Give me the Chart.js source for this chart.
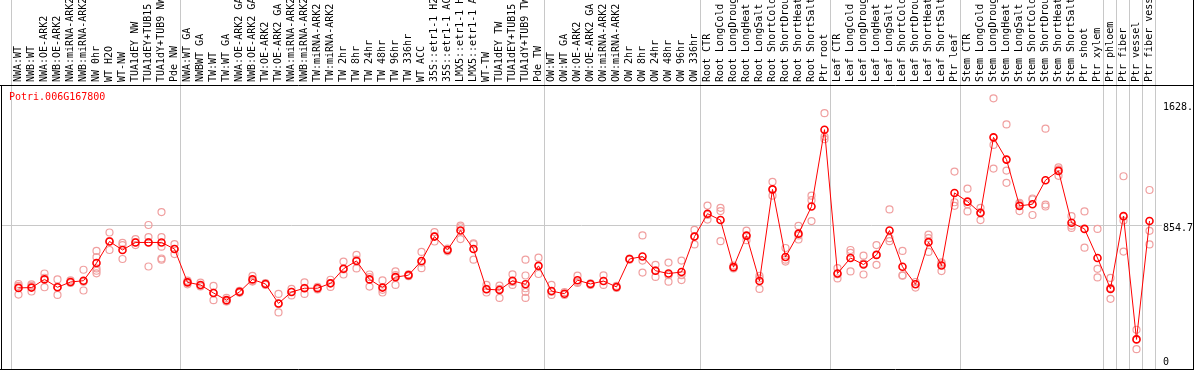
<!DOCTYPE html>
<html>
<head>
<meta charset="utf-8">
<script src="https://cdn.jsdelivr.net/npm/chart.js@4.4.0/dist/chart.umd.min.js"></script>
<style>
html,body{margin:0;padding:0;background:#ffffff;}
canvas{display:block;}
</style>
</head>
<body>
<canvas id="c" width="1194" height="370"></canvas>
<script>
const geneName = "Potri.006G167800";

const categories = [
  "NWA:WT","NWB:WT","NWA:OE-ARK2","NWB:OE-ARK2","NWA:miRNA-ARK2","NWB:miRNA-ARK2","NW 0hr","WT H2O","WT-NW","TUA1dEY NW","TUA1dEY+TUB15","TUA1dY+TUB9 NW","Pde NW",
  "NWA:WT GA","NWBWT GA","TW:WT","TW:WT GA","NWA:OE-ARK2 GA","NWB:OE-ARK2 GA","TW:OE-ARK2","TW:OE-ARK2 GA","NWA:miRNA-ARK2","NWB:miRNA-ARK2","TW:miRNA-ARK2","TW:miRNA-ARK2","TW 2hr","TW 8hr","TW 24hr","TW 48hr","TW 96hr","TW 336hr","WT ACC","35S::etr1-1 H2","35S::etr1-1 AC","LMX5::etr1-1 H","LMX5::etr1-1 A","WT-TW","TUA1dEY TW","TUA1dEY+TUB15","TUA1dY+TUB9 TW","Pde TW",
  "OW:WT","OW:WT GA","OW:OE-ARK2","OW:OE-ARK2 GA","OW:miRNA-ARK2","OW:miRNA-ARK2","OW 2hr","OW 8hr","OW 24hr","OW 48hr","OW 96hr","OW 336hr",
  "Root CTR","Root LongCold","Root LongDroug","Root LongHeat","Root LongSalt","Root ShortCold","Root ShortDrou","Root ShortHeat","Root ShortSalt","Ptr root",
  "Leaf CTR","Leaf LongCold","Leaf LongDroug","Leaf LongHeat","Leaf LongSalt","Leaf ShortCold","Leaf ShortDrou","Leaf ShortHeat","Leaf ShortSalt","Ptr leaf",
  "Stem CTR","Stem LongCold","Stem LongDroug","Stem LongHeat","Stem LongSalt","Stem ShortCold","Stem ShortDrou","Stem ShortHeat","Stem ShortSalt","Ptr shoot","Ptr xylem",
  "Ptr phloem","Ptr fiber","Ptr vessel","Ptr fiber vess"
];

const meanValues = [
  468,470,520,472,504,512,620,752,700,746,746,746,706,
  502,486,437,393,444,520,492,373,443,466,466,496,585,633,520,470,534,546,633,782,700,819,706,460,455,512,490,603,
  449,432,515,492,510,474,645,660,573,556,565,782,
  922,883,595,788,510,1071,657,800,966,1436,
  556,651,611,670,819,597,490,748,605,1049,
  996,926,1389,1253,970,980,1127,1184,867,829,651,
  462,907,153,877
];

const replicateValues = [
  [492,480,427],[490,480,446],[556,472,530],[520,425,474],[514,502,498],[579,452,505],
  [694,656,587,573,557],[807,700,754],[744,730,645],[767,730,748],[853,779,599,748],
  [932,779,720,648,641],[736,675,706],
  [512,490,505],[500,480,477],[480,393,438],[407,387,385],[444,450,438],[541,510,507],
  [492,498,486],[431,318,370],[462,422,444],[502,431,468],[468,474,459],[518,474,498],
  [629,550,581],[670,587,641],[550,476,534],[514,440,456],[569,486,546],[551,543,540],
  [688,589,623],[809,752,784],[708,692,700],[849,767,839],[740,641,735],[486,440,462],
  [482,407,462],[551,486,504],[641,544,466,443,407],[653,553],
  [486,425,444],[442,425],[543,504,498],[496,486],[545,486],[480,468],[647,641],
  [789,562,635],[609,535,575],[623,506,546],[635,516,546],[823,734,784],
  [972,886,914],[958,938,754],[605,587,593],[819,760,784],[541,526,462],[1117,1032,1069],
  [712,629,641],[847,764,789],[1032,1005,877],[1537,1394,1378],
  [589,526,551],[700,569,682],[665,550,618],[730,609,670],[948,754,772],[694,545,543],
  [504,470,492],[794,773,688],[625,571,618],[1180,992,970],
  [1075,936,980],[958,883,932],[1628,1343,1198],[1468,1186,1111],[982,938,989],
  [1015,914,1009],[1442,978,966],[1206,1154,1194],[907,835,849],[936,714],[829,585,532],
  [529,401,468],[1151,690,880],[212,93,155],[1067,817,734]
];

const groupStarts = [0, 13, 41, 53, 63, 73, 84, 85, 86, 87, 88];
const yTickValues = [0, 854.7, 1628];
const yTickLabels = ["0", "854.7", "1628."];
const gridValues = [854.7];
const yAxisMax = 1709.4;

const MONO = '"DejaVu Sans Mono", "Liberation Mono", monospace';

const meanPoints = meanValues.map((v, i) => ({ x: i, y: v }));
const replicatePoints = [];
replicateValues.forEach((reps, i) => reps.forEach(v => replicatePoints.push({ x: i, y: v })));

const framePlugin = {
  id: 'frame',
  beforeDatasetsDraw(chart) {
    const { ctx, chartArea: a, scales } = chart;
    const xs = scales.x, ys = scales.y;
    ctx.save();
    ctx.strokeStyle = '#c8c8c8';
    ctx.lineWidth = 1;
    groupStarts.forEach(g => {
      const px = Math.floor(xs.getPixelForValue(g - 0.5)) - 0.5;
      ctx.beginPath();
      ctx.moveTo(px, 0);
      ctx.lineTo(px, chart.height);
      ctx.stroke();
    });
    gridValues.forEach(v => {
      const py = Math.round(ys.getPixelForValue(v)) + 0.5;
      ctx.beginPath();
      ctx.moveTo(1, py);
      ctx.lineTo(a.right + 6, py);
      ctx.stroke();
    });

    // category labels, rotated, read bottom to top, starting just above the plot
    ctx.font = '10px ' + MONO;
    ctx.fillStyle = '#000000';
    ctx.textAlign = 'left';
    ctx.textBaseline = 'middle';
    categories.forEach((label, i) => {
      const px = xs.getPixelForValue(i);
      ctx.save();
      ctx.translate(px, a.top - 3);
      ctx.rotate(-Math.PI / 2);
      ctx.fillText(label, 0, 0);
      ctx.restore();
    });
    ctx.restore();
  },
  afterDraw(chart) {
    const { ctx, chartArea: a, scales } = chart;
    const ys = scales.y;
    const W = chart.width, H = chart.height;
    ctx.save();
    ctx.strokeStyle = '#000000';
    ctx.lineWidth = 1;
    ctx.beginPath();
    ctx.moveTo(0, a.top + 0.5); ctx.lineTo(W, a.top + 0.5);
    ctx.moveTo(1.5, a.top); ctx.lineTo(1.5, H);
    ctx.moveTo(0, H - 0.5); ctx.lineTo(W, H - 0.5);
    ctx.moveTo(W - 0.5, 0); ctx.lineTo(W - 0.5, H);
    ctx.stroke();

    ctx.font = '10px ' + MONO;
    ctx.fillStyle = '#ff0000';
    ctx.textAlign = 'left';
    ctx.textBaseline = 'middle';
    ctx.fillText(geneName, a.left - 3, a.top + 12);

    ctx.fillStyle = '#000000';
    yTickValues.forEach((v, i) => {
      let py = ys.getPixelForValue(v) + 4;
      py = Math.max(py, a.top + 22);
      py = Math.min(py, H - 8);
      ctx.fillText(yTickLabels[i], a.right + 7, py);
    });
    ctx.restore();
  }
};

new Chart(document.getElementById('c'), {
  type: 'line',
  data: {
    datasets: [
      {
        label: 'mean',
        data: meanPoints,
        borderColor: '#ff0000',
        borderWidth: 1,
        pointRadius: 3.5,
        pointBorderWidth: 1.6,
        pointBorderColor: '#ff0000',
        pointBackgroundColor: 'rgba(255,255,255,0)',
        tension: 0,
        order: 0
      },
      {
        label: 'replicates',
        data: replicatePoints,
        showLine: false,
        pointRadius: 3.5,
        pointBorderWidth: 1.2,
        pointBorderColor: '#f0a0a0',
        pointBackgroundColor: 'rgba(255,255,255,0)',
        order: 1
      }
    ]
  },
  options: {
    responsive: false,
    animation: false,
    devicePixelRatio: 1,
    layout: { padding: { left: 12, right: 38, top: 0, bottom: -2 } },
    plugins: { legend: { display: false }, tooltip: { enabled: false }, title: { display: false } },
    scales: {
      x: {
        type: 'linear',
        position: 'top',
        min: -0.5,
        max: categories.length - 0.5,
        afterBuildTicks: s => { s.ticks = categories.map((_, i) => ({ value: i })); },
        afterFit: s => { s.height = 85; },
        grid: { display: false },
        border: { display: false },
        ticks: { display: false }
      },
      y: {
        type: 'linear',
        display: false,
        min: 0,
        max: yAxisMax
      }
    }
  },
  plugins: [framePlugin]
});
</script>
</body>
</html>
